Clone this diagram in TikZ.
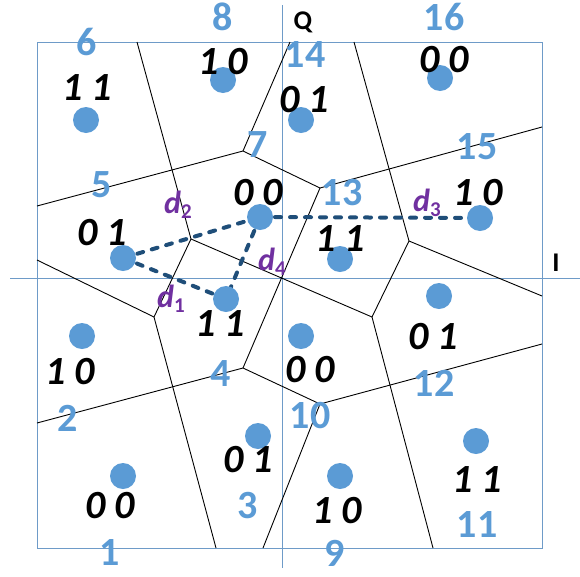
\documentclass[tikz,border=0pt]{standalone}
\usepackage{fontspec}
\setmainfont{Carlito}
\definecolor{dotblue}{RGB}{91,155,213}
\definecolor{numblue}{RGB}{91,155,213}
\definecolor{frameblue}{RGB}{110,155,200}
\definecolor{dashblue}{RGB}{31,78,121}
\definecolor{dpurple}{RGB}{112,48,160}
\tikzset{
  dot/.style={circle,fill=dotblue,inner sep=0pt,minimum size=26pt},
  bits/.style={inner sep=0pt,font=\fontsize{40}{40}\selectfont\bfseries\itshape},
  num/.style={inner sep=0pt,text=numblue,font=\fontsize{40}{40}\selectfont\bfseries},
  axlab/.style={inner sep=0pt,font=\fontsize{27}{27}\selectfont\bfseries},
  dlab/.style={inner sep=0pt,text=dpurple,font=\fontsize{32}{32}\selectfont\bfseries\itshape},
  vor/.style={draw=black,line width=0.9pt},
  frm/.style={draw=frameblue,line width=1pt},
  dist/.style={draw=dashblue,line width=4pt,line cap=round,dash pattern=on 6pt off 9pt}
}
\newcommand{\dsub}[2]{#1\raisebox{-5pt}{\fontsize{21}{21}\selectfont\upshape #2}}
\begin{document}
\begin{tikzpicture}[x=1pt,y=-1pt]
\useasboundingbox (0,0) rectangle (580,576);
% frame and axes
\node[frm,inner sep=0pt,minimum width=505pt,minimum height=506pt,anchor=north west] (frame) at (37,42) {};
\coordinate (qtop) at (282,5);
\coordinate (qbot) at (282,568);
\coordinate (ileft) at (10,278);
\coordinate (iright) at (580,278);
\draw[frm] (qtop) -- (qbot);
\draw[frm] (ileft) -- (iright);
\node[axlab] (Q) at (303,22) {Q};
\node[axlab] (I) at (556,263) {I};
% Voronoi vertices
\coordinate (V1) at (191,239);
\coordinate (V2) at (243,151);
\coordinate (V3) at (320,188);
\coordinate (V5) at (409,241);
\coordinate (V6) at (372,317);
\coordinate (V7) at (243,368);
\coordinate (V8) at (320,404);
\coordinate (V9) at (154,317);
\coordinate (T1) at (137,42);
\coordinate (T2) at (290,42);
\coordinate (T3) at (354,42);
\coordinate (L1) at (37,206);
\coordinate (L2) at (37,260);
\coordinate (L3) at (37,423);
\coordinate (R1) at (542,127);
\coordinate (R2) at (542,296);
\coordinate (R3) at (542,344);
\coordinate (B1) at (216,548);
\coordinate (B2) at (263,548);
\coordinate (B3) at (433,548);
\draw[vor] (T1) -- (V1);
\draw[vor] (L1) -- (V2);
\draw[vor] (V2) -- (T2);
\draw[vor] (V2) -- (V3);
\draw[vor] (V3) -- (R1);
\draw[vor] (T3) -- (V5);
\draw[vor] (V5) -- (R2);
\draw[vor] (V5) -- (V6);
\draw[vor] (V1) -- (V6);
\draw[vor] (V3) -- (V7);
\draw[vor] (V7) -- (L3);
\draw[vor] (V7) -- (V8);
\draw[vor] (V8) -- (R3);
\draw[vor] (V8) -- (B2);
\draw[vor] (V6) -- (B3);
\draw[vor] (V1) -- (V9);
\draw[vor] (V9) -- (L2);
\draw[vor] (V9) -- (B1);
% point centres
\coordinate (c6) at (86,120);
\coordinate (c8) at (223,80);
\coordinate (c14) at (301,120);
\coordinate (c16) at (440,78);
\coordinate (c7) at (260,217);
\coordinate (c5) at (123,258);
\coordinate (c13) at (340,259);
\coordinate (c15) at (480,218);
\coordinate (c4) at (226,299);
\coordinate (c2) at (82,336);
\coordinate (c1) at (123,476);
\coordinate (c3) at (258,436);
\coordinate (c10) at (301,336);
\coordinate (c12) at (439,296);
\coordinate (c11) at (476,441);
\coordinate (c9) at (340,476);
% distance lines
\draw[dist] (c5) -- (c7);
\draw[dist] (c5) -- (c4);
\draw[dist] (c7) -- (c4);
\draw[dist] (c7) -- (c15);
% dots
\foreach \n in {6,8,14,16,7,5,13,15,4,2,1,3,10,12,11,9}
  \node[dot] (p\n) at (c\n) {};
% bit labels
\node[bits] (b6) at (87,88) {1 1};
\node[bits] (b8) at (223,62) {1 0};
\node[bits] (b14) at (304,100) {0 1};
\node[bits] (b16) at (444,60) {0 0};
\node[bits] (b7) at (258,193) {0 0};
\node[bits] (b5) at (102,233) {0 1};
\node[bits] (b13) at (340,239) {1 1};
\node[bits] (b15) at (478,193) {1 0};
\node[bits] (b4) at (220,324) {1 1};
\node[bits] (b2) at (70,372) {1 0};
\node[bits] (b1) at (110,506) {0 0};
\node[bits] (b3) at (248,460) {0 1};
\node[bits] (b10) at (310,370) {0 0};
\node[bits] (b12) at (433,337) {0 1};
\node[bits] (b11) at (477,480) {1 1};
\node[bits] (b9) at (337,511) {1 0};
% region numbers
\node[num] (n1) at (110,552) {1};
\node[num] (n2) at (68,418) {2};
\node[num] (n3) at (248,506) {3};
\node[num] (n4) at (221,374) {4};
\node[num] (n5) at (102,185) {5};
\node[num] (n6) at (87,42) {6};
\node[num] (n7) at (258,145) {7};
\node[num] (n8) at (223,17) {8};
\node[num] (n9) at (335,553) {9};
\node[num] (n10) at (310,416) {10};
\node[num] (n11) at (477,525) {11};
\node[num] (n12) at (434,383) {12};
\node[num] (n13) at (342,193) {13};
\node[num] (n14) at (305,55) {14};
\node[num] (n15) at (477,147) {15};
\node[num] (n16) at (444,17) {16};
% distance labels
\node[dlab] (d1) at (171,299) {\dsub{d}{1}};
\node[dlab] (d2) at (178,205) {\dsub{d}{2}};
\node[dlab] (d3) at (427,203) {\dsub{d}{3}};
\node[dlab] (d4) at (272,262) {\dsub{d}{4}};
\end{tikzpicture}
\end{document}
